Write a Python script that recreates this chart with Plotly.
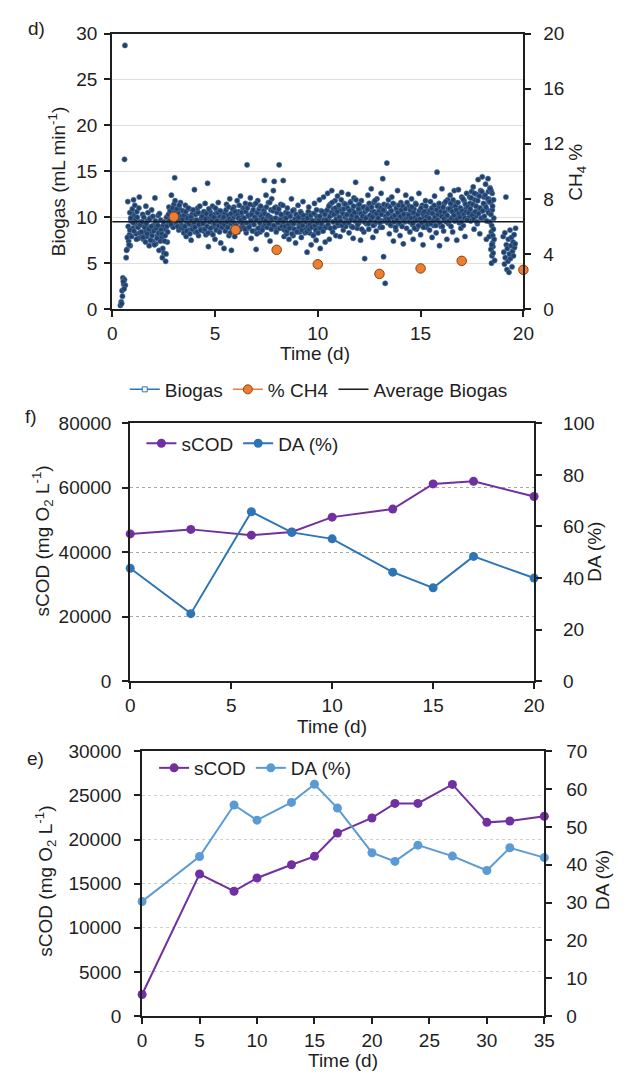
import plotly.graph_objects as go

# ---------------- panel d: biogas flow (scatter) and CH4 % ----------------
biogas_time = [
    0.40, 0.44, 0.48, 0.52, 0.56, 0.60, 0.64, 0.68, 0.72, 0.76, 0.80, 0.84, 0.88, 0.92, 0.96, 1.00, 1.04, 1.08, 1.12, 1.16, 1.20, 1.24, 1.28, 1.32, 1.36,
    1.40, 1.44, 1.48, 1.52, 1.56, 1.60, 1.64, 1.68, 1.72, 1.76, 1.80, 1.84, 1.88, 1.92, 1.96, 2.00, 2.04, 2.08, 2.12, 2.16, 2.20, 2.24, 2.28, 2.32, 2.36,
    2.40, 2.44, 2.48, 2.52, 2.56, 2.60, 2.64, 2.68, 2.72, 2.76, 2.80, 2.84, 2.88, 2.92, 2.96, 3.00, 3.04, 3.08, 3.12, 3.16, 3.20, 3.24, 3.28, 3.32, 3.36,
    3.40, 3.44, 3.48, 3.52, 3.56, 3.60, 3.64, 3.68, 3.72, 3.76, 3.80, 3.84, 3.88, 3.92, 3.96, 4.00, 4.04, 4.08, 4.12, 4.16, 4.20, 4.24, 4.28, 4.32, 4.36,
    4.40, 4.44, 4.48, 4.52, 4.56, 4.60, 4.64, 4.68, 4.72, 4.76, 4.80, 4.84, 4.88, 4.92, 4.96, 5.00, 5.04, 5.08, 5.12, 5.16, 5.20, 5.24, 5.28, 5.32, 5.36,
    5.40, 5.44, 5.48, 5.52, 5.56, 5.60, 5.64, 5.68, 5.72, 5.76, 5.80, 5.84, 5.88, 5.92, 5.96, 6.00, 6.04, 6.08, 6.12, 6.16, 6.20, 6.24, 6.28, 6.32, 6.36,
    6.40, 6.44, 6.48, 6.52, 6.56, 6.60, 6.64, 6.68, 6.72, 6.76, 6.80, 6.84, 6.88, 6.92, 6.96, 7.00, 7.04, 7.08, 7.12, 7.16, 7.20, 7.24, 7.28, 7.32, 7.36,
    7.40, 7.44, 7.48, 7.52, 7.56, 7.60, 7.64, 7.68, 7.72, 7.76, 7.80, 7.84, 7.88, 7.92, 7.96, 8.00, 8.04, 8.08, 8.12, 8.16, 8.20, 8.24, 8.28, 8.32, 8.36,
    8.40, 8.44, 8.48, 8.52, 8.56, 8.60, 8.64, 8.68, 8.72, 8.76, 8.80, 8.84, 8.88, 8.92, 8.96, 9.00, 9.04, 9.08, 9.12, 9.16, 9.20, 9.24, 9.28, 9.32, 9.36,
    9.40, 9.44, 9.48, 9.52, 9.56, 9.60, 9.64, 9.68, 9.72, 9.76, 9.80, 9.84, 9.88, 9.92, 9.96, 10.00, 10.04, 10.08, 10.12, 10.16, 10.20, 10.24, 10.28, 10.32, 10.36,
    10.40, 10.44, 10.48, 10.52, 10.56, 10.60, 10.64, 10.68, 10.72, 10.76, 10.80, 10.84, 10.88, 10.92, 10.96, 11.00, 11.04, 11.08, 11.12, 11.16, 11.20, 11.24, 11.28, 11.32, 11.36,
    11.40, 11.44, 11.48, 11.52, 11.56, 11.60, 11.64, 11.68, 11.72, 11.76, 11.80, 11.84, 11.88, 11.92, 11.96, 12.00, 12.04, 12.08, 12.12, 12.16, 12.20, 12.24, 12.28, 12.32, 12.36,
    12.40, 12.44, 12.48, 12.52, 12.56, 12.60, 12.64, 12.68, 12.72, 12.76, 12.80, 12.84, 12.88, 12.92, 12.96, 13.00, 13.04, 13.08, 13.12, 13.16, 13.20, 13.24, 13.28, 13.32, 13.36,
    13.40, 13.44, 13.48, 13.52, 13.56, 13.60, 13.64, 13.68, 13.72, 13.76, 13.80, 13.84, 13.88, 13.92, 13.96, 14.00, 14.04, 14.08, 14.12, 14.16, 14.20, 14.24, 14.28, 14.32, 14.36,
    14.40, 14.44, 14.48, 14.52, 14.56, 14.60, 14.64, 14.68, 14.72, 14.76, 14.80, 14.84, 14.88, 14.92, 14.96, 15.00, 15.04, 15.08, 15.12, 15.16, 15.20, 15.24, 15.28, 15.32, 15.36,
    15.40, 15.44, 15.48, 15.52, 15.56, 15.60, 15.64, 15.68, 15.72, 15.76, 15.80, 15.84, 15.88, 15.92, 15.96, 16.00, 16.04, 16.08, 16.12, 16.16, 16.20, 16.24, 16.28, 16.32, 16.36,
    16.40, 16.44, 16.48, 16.52, 16.56, 16.60, 16.64, 16.68, 16.72, 16.76, 16.80, 16.84, 16.88, 16.92, 16.96, 17.00, 17.04, 17.08, 17.12, 17.16, 17.20, 17.24, 17.28, 17.32, 17.36,
    17.40, 17.44, 17.48, 17.52, 17.56, 17.60, 17.64, 17.68, 17.72, 17.76, 17.80, 17.84, 17.88, 17.92, 17.96, 18.00, 18.04, 18.08, 18.12, 18.16, 18.20, 18.24, 18.28, 18.32, 18.36,
    18.40, 18.44, 18.48, 18.52, 18.56,
    0.46, 0.50, 0.54, 0.58, 0.60, 0.62, 0.70, 0.74, 0.78, 0.86,
    18.30, 18.34, 18.38, 18.42, 18.43, 18.45, 18.46, 18.47, 18.49, 18.50, 18.51, 18.53, 18.55, 18.58, 18.60,
    19.02, 19.05, 19.08, 19.10, 19.12, 19.15, 19.17, 19.20, 19.22, 19.25, 19.27, 19.30, 19.32, 19.35, 19.37, 19.40, 19.42, 19.45, 19.47, 19.50, 19.52, 19.55, 19.57, 19.60, 19.62,
]
biogas_flow = [
    0.4, 0.8, 2.0, 3.4, 2.7, 3.2, 2.6, 5.6, 6.5, 11.7, 7.4, 8.1, 6.9, 9.6, 10.4, 8.8, 11.9, 10.1, 9.3, 8.2, 10.6, 9.0, 7.7, 12.2, 9.5,
    9.2, 8.1, 10.3, 7.6, 9.0, 8.4, 11.2, 7.9, 9.6, 8.8, 6.9, 9.9, 8.3, 10.8, 7.4, 9.1, 8.6, 12.1, 7.1, 9.4, 8.0, 10.2, 6.4, 8.9, 9.7,
    7.8, 5.6, 9.1, 6.1, 8.7, 5.2, 10.0, 7.3, 9.5, 11.1, 10.4, 9.8, 12.4, 10.6, 8.9, 11.4, 14.3, 9.4, 10.2, 10.8, 9.9, 8.6, 10.9, 11.6, 9.2,
    9.0, 10.7, 8.3, 9.8, 11.3, 7.9, 9.4, 10.1, 8.6, 10.9, 9.2, 7.5, 10.3, 8.9, 9.7, 13.0, 8.4, 10.5, 9.1, 11.0, 8.0, 9.6, 10.4, 8.7, 9.3,
    10.2, 8.5, 9.4, 11.5, 8.1, 10.0, 13.7, 6.8, 9.8, 10.6, 8.3, 9.5, 11.2, 9.0, 10.3, 7.6, 9.9, 10.8, 8.8, 11.6, 9.2, 10.1, 7.2, 9.7, 10.5,
    9.1, 6.6, 10.4, 8.7, 11.4, 9.6, 10.2, 8.0, 12.0, 9.3, 6.4, 8.6, 9.9, 11.1, 7.9, 10.3, 9.0, 11.8, 8.4, 10.6, 9.5, 12.3, 8.9, 10.0, 11.0,
    9.4, 10.8, 11.5, 8.3, 15.7, 8.8, 10.1, 9.2, 12.1, 7.7, 10.5, 9.6, 11.3, 8.5, 9.9, 6.5, 8.2, 11.8, 9.7, 10.3, 8.4, 9.0, 11.0, 10.4, 8.9,
    14.0, 9.3, 12.4, 8.1, 10.0, 11.6, 9.5, 7.4, 10.8, 12.0, 9.1, 12.9, 13.9, 9.0, 11.1, 8.6, 9.8, 10.7, 15.7, 9.4, 11.4, 8.8, 10.1, 14.0, 7.9,
    9.6, 10.5, 8.2, 11.0, 9.1, 7.6, 10.3, 8.9, 12.0, 9.4, 8.0, 10.8, 9.7, 7.2, 10.0, 8.6, 11.3, 9.2, 8.4, 10.6, 7.8, 9.9, 11.7, 8.8, 9.5,
    8.7, 10.2, 6.2, 9.0, 11.1, 8.3, 9.8, 7.0, 10.4, 9.3, 8.1, 11.5, 9.6, 7.5, 10.1, 8.8, 9.4, 11.9, 6.6, 10.7, 9.2, 8.5, 12.2, 9.7, 7.3,
    10.6, 8.9, 12.6, 9.8, 7.6, 11.4, 10.2, 12.9, 8.4, 10.9, 9.5, 11.8, 8.0, 10.4, 12.3, 9.1, 11.0, 7.9, 10.7, 12.7, 9.3, 8.6, 11.5, 10.0, 9.0,
    11.2, 9.6, 12.5, 8.3, 10.3, 11.7, 9.0, 10.8, 7.7, 12.1, 9.9, 13.8, 10.5, 8.8, 11.3, 9.4, 10.9, 7.5, 11.8, 9.7, 10.2, 8.4, 5.5, 11.1, 9.3,
    10.0, 12.4, 8.7, 11.0, 9.5, 13.1, 10.6, 7.8, 11.6, 9.2, 10.3, 8.5, 12.0, 9.8, 11.3, 10.4, 8.9, 12.6, 9.6, 14.2, 5.7, 10.7, 2.8, 11.2, 15.9,
    9.4, 11.9, 8.2, 10.5, 9.1, 12.2, 10.0, 7.4, 11.4, 9.7, 8.6, 10.8, 12.9, 9.3, 10.2, 8.0, 11.6, 9.9, 10.6, 7.1, 11.0, 9.5, 12.4, 8.8, 10.3,
    9.8, 11.2, 8.4, 10.4, 12.0, 9.2, 7.6, 10.9, 9.6, 11.5, 8.7, 10.1, 9.0, 12.6, 10.6, 8.1, 9.7, 11.3, 7.0, 10.0, 9.4, 11.8, 8.9, 10.7, 9.3,
    10.5, 8.6, 11.7, 9.5, 7.8, 10.9, 9.1, 12.3, 10.2, 8.3, 14.9, 9.7, 11.1, 6.9, 10.4, 9.0, 13.1, 10.7, 8.5, 11.5, 9.6, 10.1, 7.6, 11.9, 9.3,
    10.8, 12.4, 9.0, 11.2, 8.4, 10.5, 12.9, 9.7, 11.6, 7.5, 10.2, 13.0, 9.4, 11.0, 8.8, 12.2, 10.6, 9.1, 11.8, 7.9, 10.9, 12.6, 9.8, 11.3, 10.0,
    11.5, 9.6, 12.8, 10.4, 13.3, 8.7, 11.9, 10.1, 12.5, 9.3, 14.1, 11.0, 8.2, 12.9, 10.7, 14.4, 9.9, 12.2, 11.4, 13.6, 7.6, 10.8, 14.2, 12.0, 9.5,
    11.6, 8.4, 12.6, 6.8, 9.9,
    0.6, 1.4, 3.0, 2.2, 16.3, 28.7, 6.4, 7.8, 9.0, 10.5,
    12.8, 7.9, 13.2, 6.5, 12.9, 5.0, 9.1, 5.8, 10.8, 7.2, 8.0, 6.1, 11.9, 7.6, 5.3,
    7.9, 6.2, 4.9, 8.3, 5.6, 12.2, 7.0, 4.3, 6.6, 5.2, 7.6, 4.0, 6.0, 8.6, 5.5, 6.9, 7.8, 4.6, 6.3, 7.3, 5.8, 8.1, 6.7, 7.1, 8.8,
]
# interleaved readings (between the ones above)
biogas_time_b = [
    0.82, 0.86, 0.90, 0.94, 0.98, 1.02, 1.06, 1.10, 1.14, 1.18, 1.22, 1.26, 1.30, 1.34, 1.38,
    1.42, 1.46, 1.50, 1.54, 1.58, 1.62, 1.66, 1.70, 1.74, 1.78, 1.82, 1.86, 1.90, 1.94, 1.98, 2.02, 2.06, 2.10, 2.14, 2.18, 2.22, 2.26, 2.30, 2.34, 2.38,
    2.42, 2.46, 2.50, 2.54, 2.58, 2.62, 2.66, 2.70, 2.74, 2.78, 2.82, 2.86, 2.90, 2.94, 2.98, 3.02, 3.06, 3.10, 3.14, 3.18, 3.22, 3.26, 3.30, 3.34, 3.38,
    3.42, 3.46, 3.50, 3.54, 3.58, 3.62, 3.66, 3.70, 3.74, 3.78, 3.82, 3.86, 3.90, 3.94, 3.98, 4.02, 4.06, 4.10, 4.14, 4.18, 4.22, 4.26, 4.30, 4.34, 4.38,
    4.42, 4.46, 4.50, 4.54, 4.58, 4.62, 4.66, 4.70, 4.74, 4.78, 4.82, 4.86, 4.90, 4.94, 4.98, 5.02, 5.06, 5.10, 5.14, 5.18, 5.22, 5.26, 5.30, 5.34, 5.38,
    5.42, 5.46, 5.50, 5.54, 5.58, 5.62, 5.66, 5.70, 5.74, 5.78, 5.82, 5.86, 5.90, 5.94, 5.98, 6.02, 6.06, 6.10, 6.14, 6.18, 6.22, 6.26, 6.30, 6.34, 6.38,
    6.42, 6.46, 6.50, 6.54, 6.58, 6.62, 6.66, 6.70, 6.74, 6.78, 6.82, 6.86, 6.90, 6.94, 6.98, 7.02, 7.06, 7.10, 7.14, 7.18, 7.22, 7.26, 7.30, 7.34, 7.38,
    7.42, 7.46, 7.50, 7.54, 7.58, 7.62, 7.66, 7.70, 7.74, 7.78, 7.82, 7.86, 7.90, 7.94, 7.98, 8.02, 8.06, 8.10, 8.14, 8.18, 8.22, 8.26, 8.30, 8.34, 8.38,
    8.42, 8.46, 8.50, 8.54, 8.58, 8.62, 8.66, 8.70, 8.74, 8.78, 8.82, 8.86, 8.90, 8.94, 8.98, 9.02, 9.06, 9.10, 9.14, 9.18, 9.22, 9.26, 9.30, 9.34, 9.38,
    9.42, 9.46, 9.50, 9.54, 9.58, 9.62, 9.66, 9.70, 9.74, 9.78, 9.82, 9.86, 9.90, 9.94, 9.98, 10.02, 10.06, 10.10, 10.14, 10.18, 10.22, 10.26, 10.30, 10.34, 10.38,
    10.42, 10.46, 10.50, 10.54, 10.58, 10.62, 10.66, 10.70, 10.74, 10.78, 10.82, 10.86, 10.90, 10.94, 10.98, 11.02, 11.06, 11.10, 11.14, 11.18, 11.22, 11.26, 11.30, 11.34, 11.38,
    11.42, 11.46, 11.50, 11.54, 11.58, 11.62, 11.66, 11.70, 11.74, 11.78, 11.82, 11.86, 11.90, 11.94, 11.98, 12.02, 12.06, 12.10, 12.14, 12.18, 12.22, 12.26, 12.30, 12.34, 12.38,
    12.42, 12.46, 12.50, 12.54, 12.58, 12.62, 12.66, 12.70, 12.74, 12.78, 12.82, 12.86, 12.90, 12.94, 12.98, 13.02, 13.06, 13.10, 13.14, 13.18, 13.22, 13.26, 13.30, 13.34, 13.38,
    13.42, 13.46, 13.50, 13.54, 13.58, 13.62, 13.66, 13.70, 13.74, 13.78, 13.82, 13.86, 13.90, 13.94, 13.98, 14.02, 14.06, 14.10, 14.14, 14.18, 14.22, 14.26, 14.30, 14.34, 14.38,
    14.42, 14.46, 14.50, 14.54, 14.58, 14.62, 14.66, 14.70, 14.74, 14.78, 14.82, 14.86, 14.90, 14.94, 14.98, 15.02, 15.06, 15.10, 15.14, 15.18, 15.22, 15.26, 15.30, 15.34, 15.38,
    15.42, 15.46, 15.50, 15.54, 15.58, 15.62, 15.66, 15.70, 15.74, 15.78, 15.82, 15.86, 15.90, 15.94, 15.98, 16.02, 16.06, 16.10, 16.14, 16.18, 16.22, 16.26, 16.30, 16.34, 16.38,
    16.42, 16.46, 16.50, 16.54, 16.58, 16.62, 16.66, 16.70, 16.74, 16.78, 16.82, 16.86, 16.90, 16.94, 16.98, 17.02, 17.06, 17.10, 17.14, 17.18, 17.22, 17.26, 17.30, 17.34, 17.38,
    17.42, 17.46, 17.50, 17.54, 17.58, 17.62, 17.66, 17.70, 17.74, 17.78, 17.82, 17.86, 17.90, 17.94, 17.98, 18.02, 18.06, 18.10, 18.14, 18.18, 18.22, 18.26, 18.30, 18.34, 18.38,
    18.42, 18.46, 18.50, 18.54,
]
biogas_flow_b = [
    7.0, 8.6, 9.9, 7.9, 10.9, 9.4, 8.5, 11.3, 9.8, 7.6, 10.0, 8.9, 11.0, 8.3, 9.2,
    8.4, 9.5, 7.8, 10.0, 8.9, 7.3, 9.3, 8.2, 10.5, 8.7, 9.8, 7.5, 9.0, 8.0, 10.1, 8.5, 7.0, 9.6, 8.8, 7.7, 9.1, 8.3, 10.4, 7.4, 8.6,
    8.2, 6.6, 9.5, 7.4, 8.0, 6.0, 9.0, 8.4, 10.3, 9.6, 10.7, 9.2, 10.0, 11.0, 9.7, 10.5, 11.8, 9.5, 10.9, 9.0, 10.4, 11.3, 9.6, 8.8, 10.1,
    9.8, 8.8, 10.2, 9.0, 10.6, 8.5, 9.9, 11.0, 9.3, 8.2, 10.0, 9.6, 8.7, 10.8, 9.4, 8.9, 10.3, 9.7, 8.4, 10.5, 9.2, 11.2, 8.6, 9.9, 10.1,
    9.3, 10.6, 8.7, 9.8, 10.4, 9.0, 8.3, 10.9, 9.5, 8.8, 10.2, 9.7, 8.1, 10.0, 9.3, 11.0, 8.6, 9.6, 10.5, 9.1, 8.4, 10.7, 9.4, 8.9, 9.9,
    10.0, 9.2, 8.5, 10.8, 9.5, 8.9, 11.1, 9.8, 8.3, 10.4, 9.6, 10.9, 8.8, 9.4, 10.6, 9.1, 8.6, 10.2, 9.9, 11.3, 8.7, 9.7, 10.5, 9.3, 8.9,
    9.9, 8.7, 10.6, 9.4, 11.0, 10.2, 8.9, 11.4, 9.6, 10.3, 8.5, 10.8, 9.2, 10.0, 11.5, 9.7, 10.5, 8.8, 10.9, 9.4, 11.2, 10.1, 8.6, 9.8, 10.7,
    10.4, 9.6, 11.1, 8.9, 10.2, 9.3, 11.6, 10.0, 8.7, 9.8, 10.7, 9.1, 11.0, 9.9, 8.4, 10.5, 9.4, 10.9, 8.8, 9.7, 10.3, 9.0, 11.3, 9.5, 8.6,
    9.0, 9.9, 8.5, 10.4, 9.2, 8.8, 10.1, 9.5, 8.2, 10.7, 9.3, 8.7, 9.8, 10.3, 8.4, 9.6, 10.0, 8.9, 9.4, 10.5, 8.6, 9.1, 10.2, 9.7, 8.3,
    9.5, 8.4, 9.9, 10.6, 8.7, 9.2, 10.2, 8.9, 9.6, 8.0, 10.4, 9.1, 8.6, 10.8, 9.4, 8.3, 9.8, 10.1, 8.8, 9.3, 10.6, 8.5, 9.7, 10.3, 8.9,
    9.7, 10.8, 9.2, 11.2, 10.1, 8.8, 10.5, 11.6, 9.5, 10.3, 8.9, 11.0, 9.8, 10.6, 9.3, 11.3, 10.0, 9.6, 11.9, 9.1, 10.4, 10.9, 9.4, 11.4, 10.2,
    10.3, 11.0, 9.4, 10.7, 11.6, 9.8, 10.2, 8.9, 11.2, 10.5, 9.6, 11.9, 10.0, 9.2, 10.9, 11.4, 9.7, 10.4, 8.7, 10.1, 11.1, 9.5, 10.6, 9.9, 10.8,
    10.9, 9.3, 11.5, 10.2, 9.7, 11.1, 10.0, 9.1, 10.6, 11.8, 9.5, 10.4, 11.2, 9.9, 10.7, 9.4, 11.0, 10.3, 8.9, 10.8, 11.4, 9.6, 10.1, 9.8, 11.3,
    10.4, 9.8, 11.1, 9.2, 10.7, 10.0, 11.5, 9.5, 10.2, 8.9, 11.0, 9.7, 10.5, 11.3, 9.4, 10.1, 10.8, 9.0, 11.2, 10.3, 9.6, 10.9, 9.9, 11.6, 10.0,
    10.2, 9.5, 10.8, 9.9, 11.1, 9.3, 10.5, 8.8, 10.0, 11.4, 9.7, 10.3, 9.1, 10.7, 9.8, 11.0, 9.4, 10.4, 8.9, 10.6, 9.6, 11.2, 10.1, 9.2, 10.5,
    9.9, 10.7, 9.3, 11.0, 10.4, 9.6, 11.3, 10.0, 9.1, 10.8, 9.7, 10.3, 11.5, 9.4, 10.6, 10.1, 9.0, 11.1, 9.8, 10.5, 11.7, 9.5, 10.2, 10.9, 9.6,
    10.9, 11.5, 9.9, 10.6, 11.9, 10.2, 9.6, 11.2, 10.8, 9.8, 11.6, 10.4, 10.0, 11.0, 9.5, 10.7, 12.0, 10.3, 9.9, 11.4, 10.6, 9.7, 11.1, 10.5, 12.2,
    10.9, 12.1, 10.2, 11.4, 9.8, 12.6, 10.6, 11.2, 9.5, 11.8, 10.4, 12.3, 11.0, 9.9, 12.8, 10.7, 11.5, 10.1, 12.4, 11.1, 9.6, 12.0, 10.5, 11.7, 13.1,
    10.3, 7.0, 11.2, 8.7,
]
ch4_time = [3, 6, 8, 10, 13, 15, 17, 20]
ch4_pct = [6.7, 5.75, 4.3, 3.25, 2.55, 2.95, 3.5, 2.85]
avg_time = [0, 20]
avg_biogas = [9.5, 9.5]

# ---------------- panel f ----------------
f_time = [0, 3, 6, 8, 10, 13, 15, 17, 20]
f_scod = [45700, 47100, 45300, 46300, 50900, 53400, 61200, 62000, 57300]
f_da = [43.8, 26.2, 65.7, 57.7, 55.2, 42.3, 36.2, 48.4, 40.0]

# ---------------- panel e ----------------
e_time = [0, 5, 8, 10, 13, 15, 17, 20, 22, 24, 27, 30, 32, 35]
e_scod = [2450, 16100, 14150, 15650, 17150, 18100, 20750, 22450, 24100, 24100, 26250, 21950, 22100, 22650]
e_da = [30.3, 42.2, 55.8, 51.8, 56.5, 61.3, 55.0, 43.2, 40.9, 45.2, 42.3, 38.5, 44.5, 41.9]

W, H = 625, 1082
FONT = "Liberation Sans, Arial, sans-serif"
TXT = "#1e1e1e"
PURPLE = "#7030a0"
BLUE_F = "#2e75b6"
BLUE_E = "#5b9bd5"
ORANGE = "#ed7d31"


def px(x):
    return x / W


def py(y):
    return 1 - y / H


fig = go.Figure()

# panel d traces
fig.add_trace(go.Scatter(x=biogas_time + biogas_time_b, y=biogas_flow + biogas_flow_b, mode="markers",
                         xaxis="x", yaxis="y",
                         marker=dict(size=5.2, color="#22406a", line=dict(width=0.6, color="#4f78a6")),
                         showlegend=False, cliponaxis=False))
fig.add_trace(go.Scatter(x=avg_time, y=avg_biogas, mode="lines", xaxis="x", yaxis="y",
                         line=dict(color="#1a1a1a", width=1.6), showlegend=False))
fig.add_trace(go.Scatter(x=ch4_time, y=ch4_pct, mode="markers", xaxis="x", yaxis="y2",
                         marker=dict(size=9.5, color=ORANGE, line=dict(width=1, color="#8a4412")),
                         showlegend=False, cliponaxis=False))
# legend entries for panel d
fig.add_trace(go.Scatter(x=[None], y=[None], mode="lines+markers", name="Biogas", xaxis="x", yaxis="y",
                         line=dict(color="#2e75b6", width=1.5),
                         marker=dict(symbol="square", size=5, color="white", line=dict(width=1, color="#2e75b6")),
                         legend="legend"))
fig.add_trace(go.Scatter(x=[None], y=[None], mode="lines+markers", name="% CH4", xaxis="x", yaxis="y2",
                         line=dict(color=ORANGE, width=1.5),
                         marker=dict(size=9, color=ORANGE, line=dict(width=1, color="#8a4412")),
                         legend="legend"))
fig.add_trace(go.Scatter(x=[None], y=[None], mode="lines", name="Average Biogas", xaxis="x", yaxis="y",
                         line=dict(color="#1a1a1a", width=1.5), legend="legend"))

# panel f traces
fig.add_trace(go.Scatter(x=f_time, y=f_scod, mode="lines+markers", name="sCOD", xaxis="x2", yaxis="y3",
                         line=dict(color=PURPLE, width=2), marker=dict(size=9, color=PURPLE),
                         cliponaxis=False, legend="legend2"))
fig.add_trace(go.Scatter(x=f_time, y=f_da, mode="lines+markers", name="DA (%)", xaxis="x2", yaxis="y4",
                         line=dict(color=BLUE_F, width=2), marker=dict(size=9, color=BLUE_F),
                         cliponaxis=False, legend="legend2"))

# panel e traces
fig.add_trace(go.Scatter(x=e_time, y=e_scod, mode="lines+markers", name="sCOD", xaxis="x3", yaxis="y5",
                         line=dict(color=PURPLE, width=2), marker=dict(size=9, color=PURPLE),
                         cliponaxis=False, legend="legend3"))
fig.add_trace(go.Scatter(x=e_time, y=e_da, mode="lines+markers", name="DA (%)", xaxis="x3", yaxis="y6",
                         line=dict(color=BLUE_E, width=2), marker=dict(size=9, color=BLUE_E),
                         cliponaxis=False, legend="legend3"))

tickfont = dict(family=FONT, size=19, color=TXT)
common = dict(showline=True, linecolor="#1e1e1e", linewidth=2, ticks="outside", ticklen=6,
              tickwidth=1.5, tickcolor="#1e1e1e", tickfont=tickfont, zeroline=False, showgrid=False,
              fixedrange=True)

# axes
fig.update_layout(
    xaxis=dict(domain=[px(110), px(532)], anchor="y", range=[0, 20], dtick=5, mirror=True,
               ticklabelstandoff=0, **common),
    yaxis=dict(domain=[py(305), py(24)], anchor="x", range=[0, 30], dtick=5,
               ticklabelstandoff=3, **{**common, "showgrid": True}, gridcolor="#dedede", gridwidth=1.2),
    yaxis2=dict(overlaying="y", anchor="x", side="right", range=[0, 20], dtick=4,
                ticklabelstandoff=8, **common),
    xaxis2=dict(domain=[px(128.5), px(543)], anchor="y3", range=[0, 20], dtick=5, mirror=True,
                ticklabelstandoff=0, **common),
    yaxis3=dict(domain=[py(684.5), py(421.5)], anchor="x2", range=[0, 80000], dtick=20000,
                tickformat="d", ticklabelstandoff=7, **{**common, "showgrid": True},
                gridcolor="#a8a8a8", gridwidth=1.3, griddash="dot"),
    yaxis4=dict(overlaying="y3", anchor="x2", side="right", range=[0, 100], dtick=20,
                ticklabelstandoff=17, **common),
    xaxis3=dict(domain=[px(140.7), px(553.5)], anchor="y5", range=[0, 35], dtick=5, mirror=True,
                ticklabelstandoff=0, **common),
    yaxis5=dict(domain=[py(1026), py(756)], anchor="x3", range=[0, 30000], dtick=5000,
                tickformat="d", ticklabelstandoff=9, **{**common, "showgrid": True},
                gridcolor="#cfcfcf", gridwidth=1.3, griddash="dot"),
    yaxis6=dict(overlaying="y5", anchor="x3", side="right", range=[0, 70], dtick=10,
                ticklabelstandoff=10, **common),
)

legend_font = dict(family=FONT, size=19, color=TXT)
fig.update_layout(
    legend=dict(orientation="h", x=px(322), xanchor="center", y=py(387), yanchor="middle",
                font=legend_font, bgcolor="rgba(0,0,0,0)", itemwidth=30, traceorder="normal"),
    legend2=dict(orientation="h", x=px(140), xanchor="left", y=py(442), yanchor="middle",
                 font=legend_font, bgcolor="rgba(0,0,0,0)", itemwidth=30),
    legend3=dict(orientation="h", x=px(153), xanchor="left", y=py(773), yanchor="middle",
                 font=legend_font, bgcolor="rgba(0,0,0,0)", itemwidth=30),
)

title_font = dict(family=FONT, size=19, color=TXT)
annotations = [
    dict(text="d)", x=px(32), y=py(19)),
    dict(text="f)", x=px(27), y=py(415)),
    dict(text="e)", x=px(31), y=py(763)),
    dict(text="Biogas (mL min<sup>-1</sup>)", x=px(53), y=py(175), textangle=-90),
    dict(text="CH<sub>4</sub> %", x=px(587), y=py(165), textangle=-90),
    dict(text="Time (d)", x=px(318), y=py(350)),
    dict(text="sCOD (mg O<sub>2</sub> L<sup>-1</sup>)", x=px(38), y=py(542), textangle=-90),
    dict(text="DA (%)", x=px(605), y=py(553), textangle=-90),
    dict(text="Time (d)", x=px(336), y=py(731)),
    dict(text="sCOD (mg O<sub>2</sub> L<sup>-1</sup>)", x=px(42), y=py(888), textangle=-90),
    dict(text="DA (%)", x=px(614), y=py(887), textangle=-90),
    dict(text="Time (d)", x=px(347), y=py(1071)),
]
for a in annotations:
    a.update(xref="paper", yref="paper", showarrow=False, xanchor="center", yanchor="middle",
             font=title_font)

fig.update_layout(
    width=W, height=H, margin=dict(l=0, r=0, t=0, b=0),
    paper_bgcolor="white", plot_bgcolor="white",
    font=dict(family=FONT, size=19, color=TXT),
    annotations=annotations, hovermode=False,
)

fig.write_html("out.html")
